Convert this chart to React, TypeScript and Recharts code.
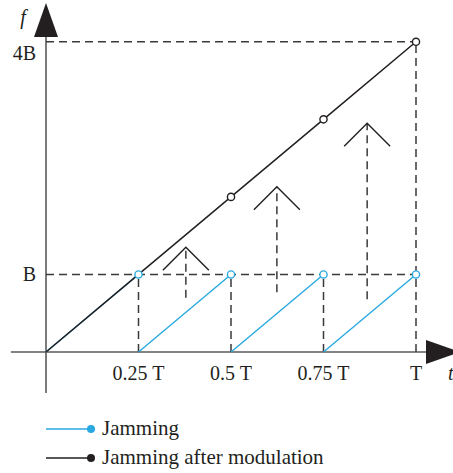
import React from 'react';
import { ComposedChart, Line, Scatter, XAxis, YAxis, ReferenceLine, Legend } from 'recharts';

const T_TICKS = [0.25, 0.5, 0.75, 1];
const T_LABELS = ['0.25 T', '0.5 T', '0.75 T', 'T'];
const F_TICKS = [1, 4];
const F_LABELS = ['B', '4B'];

// jamming: sawtooth, a ramp from 0 up to B over every quarter period
const jamStart = [0, 0.25, 0.5, 0.75];
const jamEnd = [0.25, 0.5, 0.75, 1];
const jamPeak = [1, 1, 1, 1];

// jamming after modulation: one ramp up to 4B at T
const modT = [0, 0.25, 0.5, 0.75, 1];
const modF = [0, 1, 2, 3, 4];

// frequency shift arrows (t, from f, to f)
const shiftT = [0.378, 0.624, 0.868];
const shiftFrom = [0.7, 0.77, 0.68];
const shiftTo = [1.35, 2.13, 2.95];

const legendNames = ['Jamming', 'Jamming after modulation'];

const BLUE = '#29a9e0';
const INK = '#231f20';
const DASH = '#3a3a3a';
const AXIS = '#5a5a5a';
const SERIF = '"Liberation Serif", "DejaVu Serif", serif';
const legendColors = [BLUE, INK];

const X_MAX = 1.1;
const Y_MAX = 4.5;

const jamRamps = jamStart.map((s, i) => [
  { t: s, f: 0 },
  { t: jamEnd[i], f: jamPeak[i] },
]);
const jamPeaks = jamEnd.map((t, i) => ({ t, f: jamPeak[i] }));
const modLine = modT.map((t, i) => ({ t, f: modF[i] }));
const modMarkers = modLine.slice(2);
const shiftTips = shiftT.map((t, i) => ({ t, f: shiftTo[i] }));

const XTick = (props: any) => {
  const i = T_TICKS.indexOf(props.payload.value);
  return (
    <text x={props.x} y={props.y + 28} textAnchor="middle" fontFamily={SERIF} fontSize={20} fill={INK}>
      {T_LABELS[i]}
    </text>
  );
};

const YTick = (props: any) => {
  const i = F_TICKS.indexOf(props.payload.value);
  return (
    <text x={props.x} y={props.y + (i === 1 ? 18 : 7)} textAnchor="end" fontFamily={SERIF} fontSize={20} fill={INK}>
      {F_LABELS[i]}
    </text>
  );
};

const ringDot = (color: string) => (p: any) => (
  <circle cx={p.cx} cy={p.cy} r={3.6} fill="#fff" stroke={color} strokeWidth={1.4} />
);

const chevron = (p: any) => (
  <polyline
    points={`${p.cx - 23},${p.cy + 23} ${p.cx},${p.cy} ${p.cx + 23},${p.cy + 23}`}
    fill="none" stroke={INK} strokeWidth={1.4}
  />
);

const upHead = (p: any) => (
  <polygon points={`${p.cx},${p.cy} ${p.cx - 12},${p.cy + 34} ${p.cx + 12},${p.cy + 34}`} fill={INK} />
);

const rightHead = (p: any) => (
  <polygon points={`${p.cx + 7},${p.cy} ${p.cx - 27},${p.cy - 12} ${p.cx - 27},${p.cy + 12}`} fill={INK} />
);

const LegendBox = () => (
  <div style={{ fontFamily: SERIF, fontSize: 21, color: INK }}>
    {legendNames.map((name, i) => (
      <div key={name} style={{ display: 'flex', alignItems: 'center', height: 29, marginLeft: 46 }}>
        <svg width={50} height={10} style={{ display: 'block' }}>
          <line x1={0} y1={5} x2={45} y2={5} stroke={legendColors[i]} strokeWidth={1.4} />
          <circle cx={45} cy={5} r={4} fill={legendColors[i]} />
        </svg>
        <span style={{ marginLeft: 6 }}>{name}</span>
      </div>
    ))}
  </div>
);

export default function App() {
  return (
    <div style={{ position: 'absolute', left: 0, top: 0, width: 453, height: 473, background: '#fff' }}>
      <ComposedChart width={453} height={473} margin={{ top: 3, right: 0, left: 0, bottom: 33 }}>
        <XAxis
          type="number" dataKey="t" domain={[0, X_MAX]} ticks={T_TICKS}
          axisLine={false} tickLine={false} tickSize={0} tickMargin={0} height={30}
          tick={<XTick />}
        />
        <YAxis
          type="number" dataKey="f" domain={[0, Y_MAX]} ticks={F_TICKS}
          axisLine={false} tickLine={false} tickSize={0} tickMargin={10} width={46}
          tick={<YTick />}
        />
        <Legend
          content={<LegendBox />}
          wrapperStyle={{ left: 0, top: 414, width: 453, height: 58, margin: 0 }}
        />

        {/* axes */}
        <ReferenceLine segment={[{ x: -0.095, y: 0 }, { x: X_MAX, y: 0 }]} stroke={AXIS} strokeWidth={1.6} ifOverflow="visible" />
        <ReferenceLine segment={[{ x: 0, y: -0.53 }, { x: 0, y: 4.06 }]} stroke={AXIS} strokeWidth={1.6} ifOverflow="visible" />

        {/* dashed guides */}
        {F_TICKS.map((f) => (
          <ReferenceLine key={`h${f}`} segment={[{ x: 0, y: f }, { x: 1, y: f }]} stroke={DASH} strokeWidth={1.5} strokeDasharray="8 5" />
        ))}
        {jamEnd.map((t, i) => (
          <ReferenceLine key={`v${t}`} segment={[{ x: t, y: 0 }, { x: t, y: t === 1 ? 4 : jamPeak[i] }]} stroke={DASH} strokeWidth={1.5} strokeDasharray="8 5" />
        ))}
        {shiftT.map((t, i) => (
          <ReferenceLine key={`s${t}`} segment={[{ x: t, y: shiftFrom[i] }, { x: t, y: shiftTo[i] }]} stroke={DASH} strokeWidth={1.5} strokeDasharray="8 5" />
        ))}

        {jamRamps.map((d, i) => (
          <Line key={`j${i}`} data={d} dataKey="f" stroke={BLUE} strokeWidth={1.4} dot={false} isAnimationActive={false} legendType="none" />
        ))}
        <Line data={modLine} dataKey="f" stroke={INK} strokeWidth={1.5} dot={false} isAnimationActive={false} legendType="none" />

        <Scatter data={modMarkers} dataKey="f" shape={ringDot(INK)} isAnimationActive={false} legendType="none" />
        <Scatter data={jamPeaks} dataKey="f" shape={ringDot(BLUE)} isAnimationActive={false} legendType="none" />
        <Scatter data={shiftTips} dataKey="f" shape={chevron} isAnimationActive={false} legendType="none" />
        <Scatter data={[{ t: 0, f: Y_MAX }]} dataKey="f" shape={upHead} isAnimationActive={false} legendType="none" />
        <Scatter data={[{ t: X_MAX, f: 0 }]} dataKey="f" shape={rightHead} isAnimationActive={false} legendType="none" />

        <text x={23} y={24} textAnchor="middle" fontFamily={SERIF} fontStyle="italic" fontSize={20} fill={INK}>f</text>
        <text x={448} y={380} fontFamily={SERIF} fontStyle="italic" fontSize={20} fill={INK}>t</text>
      </ComposedChart>
    </div>
  );
}
